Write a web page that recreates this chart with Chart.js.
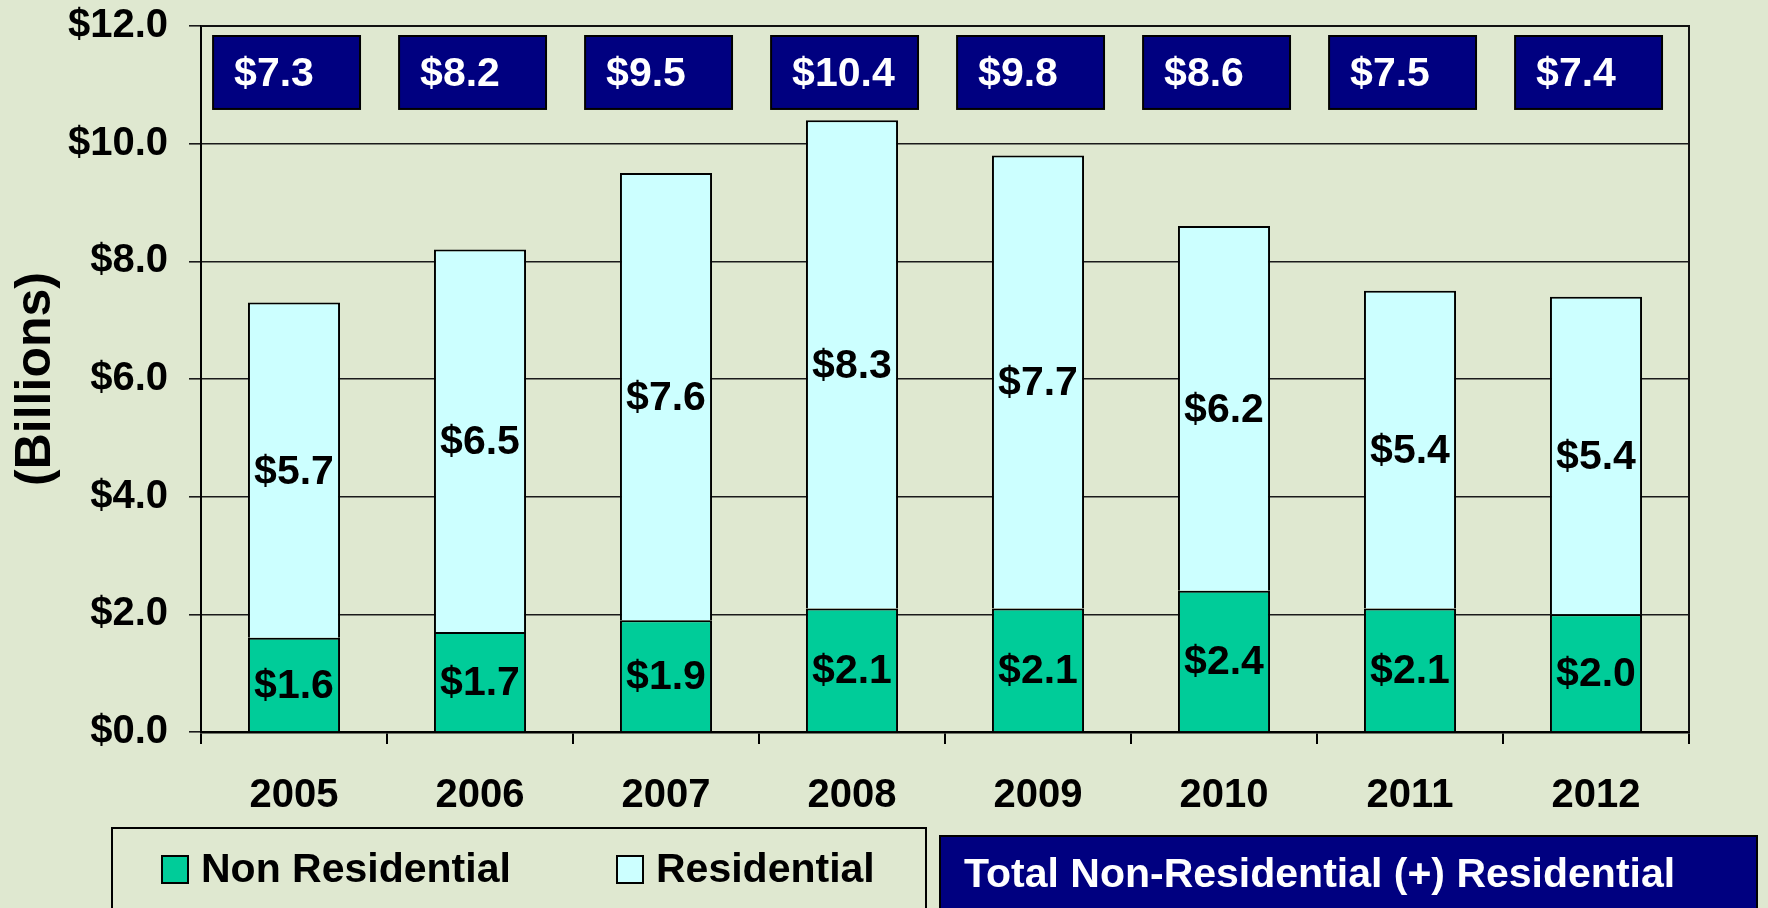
<!DOCTYPE html>
<html>
<head>
<meta charset="utf-8">
<script src="https://cdn.jsdelivr.net/npm/chart.js@4/dist/chart.umd.min.js"></script>
<style>
    html, body { margin: 0; padding: 0; }
    body { background: #dfe8d0; width: 1768px; height: 908px; overflow: hidden; }
    #wrap { position: relative; width: 1768px; height: 908px; }
</style>
</head>
<body>
<div id="wrap"><canvas id="chart"></canvas></div>
<script>
const years = ['2005', '2006', '2007', '2008', '2009', '2010', '2011', '2012'];
const nonResidential = [1.6, 1.7, 1.9, 2.1, 2.1, 2.4, 2.1, 2.0];
const residential = [5.7, 6.5, 7.6, 8.3, 7.7, 6.2, 5.4, 5.4];
const totals = [7.3, 8.2, 9.5, 10.4, 9.8, 8.6, 7.5, 7.4];
const yTicks = [0, 2, 4, 6, 8, 10, 12];
const seriesNames = ['Non Residential', 'Residential'];
const totalCaption = 'Total Non-Residential (+) Residential';

const FONT = '"Liberation Sans", Arial, Helvetica, sans-serif';
const GREEN = '#00cc99';
const CYAN = '#ccffff';
const NAVY = '#000080';

function money(v) {
    return '$' + Number(v).toFixed(1);
}

document.addEventListener('DOMContentLoaded', function() {
    showChart();
});

// labels inside each bar segment
const segmentLabels = {
    id: 'segmentLabels',
    afterDatasetsDraw(chart) {
        const ctx = chart.ctx;
        ctx.save();
        ctx.font = 'bold 41px ' + FONT;
        ctx.fillStyle = '#000';
        ctx.textAlign = 'center';
        ctx.textBaseline = 'middle';
        chart.data.datasets.forEach((ds, di) => {
            chart.getDatasetMeta(di).data.forEach((bar, i) => {
                ctx.fillText(money(ds.data[i]), bar.x, (bar.y + bar.base) / 2 + 2);
            });
        });
        ctx.restore();
    }
};

// navy total boxes, plot frame, legend and caption
const extras = {
    id: 'extras',
    afterDraw(chart) {
        const ctx = chart.ctx;
        const xs = chart.scales.x;
        const ys = chart.scales.y;
        const area = chart.chartArea;
        const catW = (area.right - area.left) / years.length;

        ctx.save();
        ctx.strokeStyle = '#111';
        ctx.lineWidth = 2;
        ctx.beginPath();
        ctx.moveTo(area.left, area.top);
        ctx.lineTo(area.right, area.top);
        ctx.lineTo(area.right, area.bottom);
        ctx.stroke();

        const top = ys.getPixelForValue(11.83);
        const bottom = ys.getPixelForValue(10.59);
        totals.forEach((t, i) => {
            const cx = xs.getPixelForValue(i) - catW * 0.04;
            const w = catW * 0.79;
            ctx.fillStyle = NAVY;
            ctx.fillRect(cx - w / 2, top, w, bottom - top);
            ctx.strokeStyle = '#000';
            ctx.lineWidth = 2;
            ctx.strokeRect(cx - w / 2, top, w, bottom - top);
            ctx.fillStyle = '#fff';
            ctx.font = 'bold 41px ' + FONT;
            ctx.textAlign = 'left';
            ctx.textBaseline = 'middle';
            ctx.fillText(money(t), cx - w / 2 + 21, (top + bottom) / 2 + 2);
        });

        // legend box
        ctx.lineWidth = 2;
        ctx.strokeStyle = '#000';
        ctx.strokeRect(112, 828, 814, 100);
        const items = [
            { x: 162, text: seriesNames[0], color: GREEN },
            { x: 617, text: seriesNames[1], color: CYAN }
        ];
        items.forEach(it => {
            ctx.fillStyle = it.color;
            ctx.fillRect(it.x, 856, 26, 27);
            ctx.strokeStyle = '#000';
            ctx.strokeRect(it.x, 856, 26, 27);
            ctx.fillStyle = '#000';
            ctx.font = 'bold 41px ' + FONT;
            ctx.textAlign = 'left';
            ctx.textBaseline = 'middle';
            ctx.fillText(it.text, it.x + 39, 871);
        });

        // caption box
        ctx.fillStyle = NAVY;
        ctx.fillRect(940, 836, 817, 100);
        ctx.strokeRect(940, 836, 817, 100);
        ctx.fillStyle = '#fff';
        ctx.font = 'bold 41px ' + FONT;
        ctx.fillText(totalCaption, 964, 876);
        ctx.restore();
    }
};

function showChart() {
    const canvasChart = document.getElementById('chart').getContext('2d');
    new Chart(canvasChart, {
        type: 'bar',
        data: {
            labels: years,
            datasets: [
                {
                    label: seriesNames[0],
                    data: nonResidential,
                    backgroundColor: GREEN,
                    borderColor: '#000',
                    borderWidth: 2
                },
                {
                    label: seriesNames[1],
                    data: residential,
                    backgroundColor: CYAN,
                    borderColor: '#000',
                    borderWidth: 2
                }
            ]
        },
        options: {
            responsive: true,
            maintainAspectRatio: false,
            animation: false,
            devicePixelRatio: 1,
            layout: { padding: { left: 0, top: 26, right: 79, bottom: 0 } },
            datasets: { bar: { categoryPercentage: 1, barPercentage: 0.495 } },
            plugins: {
                legend: { display: false },
                tooltip: { enabled: false }
            },
            scales: {
                x: {
                    stacked: true,
                    afterFit: function(scale) {
                        scale.height = 176;
                        scale.paddingLeft = 0;
                        scale.paddingRight = 0;
                    },
                    grid: {
                        display: true,
                        offset: true,
                        drawOnChartArea: false,
                        drawTicks: true,
                        tickLength: 12,
                        color: '#000',
                        lineWidth: 2
                    },
                    border: { display: true, color: '#000', width: 2.5 },
                    ticks: {
                        color: '#000',
                        padding: 28,
                        font: { family: FONT, size: 40, weight: 'bold' }
                    }
                },
                y: {
                    stacked: true,
                    min: yTicks[0],
                    max: yTicks[yTicks.length - 1],
                    afterFit: function(scale) {
                        scale.width = 201;
                        scale.paddingTop = 0;
                        scale.paddingBottom = 0;
                    },
                    afterBuildTicks: function(scale) {
                        scale.ticks = yTicks.map(v => ({ value: v }));
                    },
                    grid: {
                        color: '#1a1a1a',
                        lineWidth: 1.6,
                        tickLength: 12
                    },
                    border: { display: true, color: '#000', width: 2 },
                    ticks: {
                        color: '#000',
                        padding: 21,
                        font: { family: FONT, size: 40, weight: 'bold' },
                        callback: function(v) { return money(v); }
                    },
                    title: {
                        display: true,
                        text: '(Billions)',
                        color: '#000',
                        padding: { top: 6, bottom: 0 },
                        font: { family: FONT, size: 50, weight: 'bold' }
                    }
                }
            }
        },
        plugins: [segmentLabels, extras]
    });
}
</script>
</body>
</html>
